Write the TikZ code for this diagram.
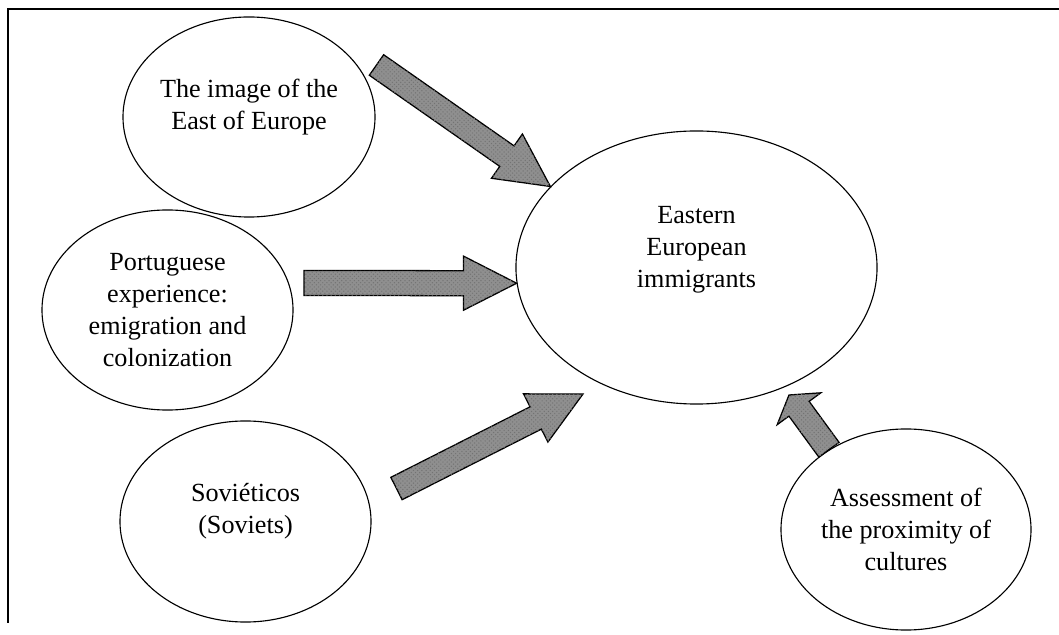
\documentclass[tikz,border=0pt]{standalone}
\usepackage{fontspec}
\setmainfont{Liberation Serif}
\tikzset{>=latex}
\usetikzlibrary{shapes.geometric,calc,patterns,positioning}

\tikzset{
  bubble/.style={draw, ellipse, fill=white, line width=0.8pt, align=center, inner sep=0pt,
    font=\fontsize{18.6}{22.8}\selectfont},
  fatarrow/.style={draw=black, line width=0.9pt, fill=gray!88,
    postaction={pattern=crosshatch dots, pattern color=black!55}},
}
% block arrow from #2 to #3, optional head length
\newcommand{\blockarrow}[3][1.325cm]{%
  \draw[fatarrow] let \p1=(#2), \p2=(#3), \n1={atan2(\y2-\y1,\x2-\x1)} in
    ($(\p1)+(\n1+90:0.3125cm)$) -- ($(\p2)!#1!(\p1)+(\n1+90:0.3125cm)$)
    -- ($(\p2)!#1!(\p1)+(\n1+90:0.675cm)$) -- (\p2)
    -- ($(\p2)!#1!(\p1)+(\n1-90:0.675cm)$) -- ($(\p2)!#1!(\p1)+(\n1-90:0.3125cm)$)
    -- ($(\p1)+(\n1-90:0.3125cm)$) -- cycle;}

\begin{document}
\begin{tikzpicture}[x=0.025cm, y=-0.025cm]
      \useasboundingbox (0,0) rectangle (1059,635);
      \draw[line width=1pt] (1059,9) -| (8,623);
      \node[bubble, minimum width=9.025cm, minimum height=6.825cm, text depth=1.04cm] (n0) at (696.5,267.5) {Eastern\\European\\immigrants};
      \node[bubble, minimum width=6.3cm, minimum height=5cm, text depth=0.64cm] (n1) at (249,117) {The image of the\\East of Europe};
      \node[bubble, minimum width=6.275cm, minimum height=5cm] (n2) at (167.5,310) {Portuguese\\experience:\\emigration and\\colonization};
      \node[bubble, minimum width=6.275cm, minimum height=5.025cm, text depth=0.67cm] (n3) at (245.5,521.5) {Soviéticos\\(Soviets)};
      \node[bubble, minimum width=6.25cm, minimum height=5.025cm] (n4) at (906,529.5) {Assessment of\\the proximity of\\cultures};
      \coordinate (aux1) at (376.5,65);
      \coordinate (aux2) at (304,283);
      \coordinate (aux3) at (396.5,488.5);
      \coordinate (aux4) at (583,394);
      \coordinate (aux5) at (789,395);
      \blockarrow{aux1}{n0.151}
      \blockarrow{aux2}{n0.185}
      \blockarrow{aux3}{aux4}
      \blockarrow[0.425cm]{n4.134.5}{aux5}
    \end{tikzpicture}
\end{document}
